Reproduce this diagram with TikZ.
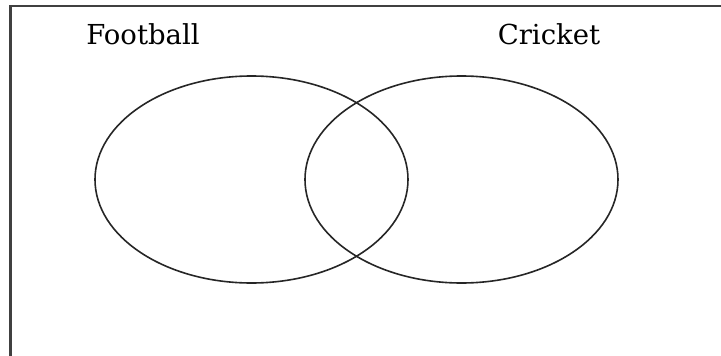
\documentclass[tikz,border=0pt]{standalone}
\usepackage{fontspec}
\setmainfont{DejaVu Serif}
\usetikzlibrary{shapes.geometric}

\begin{document}
\begin{tikzpicture}[x=1pt,y=-1pt,
  setbox/.style={draw=black!75,line width=2.2pt},
  setring/.style={draw=black!85,ellipse,line width=1.6pt,minimum width=313pt,minimum height=207pt,inner sep=0pt},
  setname/.style={anchor=base,inner sep=0pt,font=\fontsize{27.5}{32}\selectfont}]
\useasboundingbox (0,0) rectangle (721,356);
\coordinate (boxbl) at (10.5,360);
\coordinate (boxtl) at (10.5,6);
\coordinate (boxtr) at (725,6);
\draw[setbox] (boxbl) -- (boxtl) -- (boxtr);
\node[setring] (football) at (251.5,179.5) {};
\node[setring] (cricket) at (461.5,179.5) {};
\node[setname] (footballname) at (143,44) {Football};
\node[setname] (cricketname) at (549,44) {Cricket};
\end{tikzpicture}
\end{document}
